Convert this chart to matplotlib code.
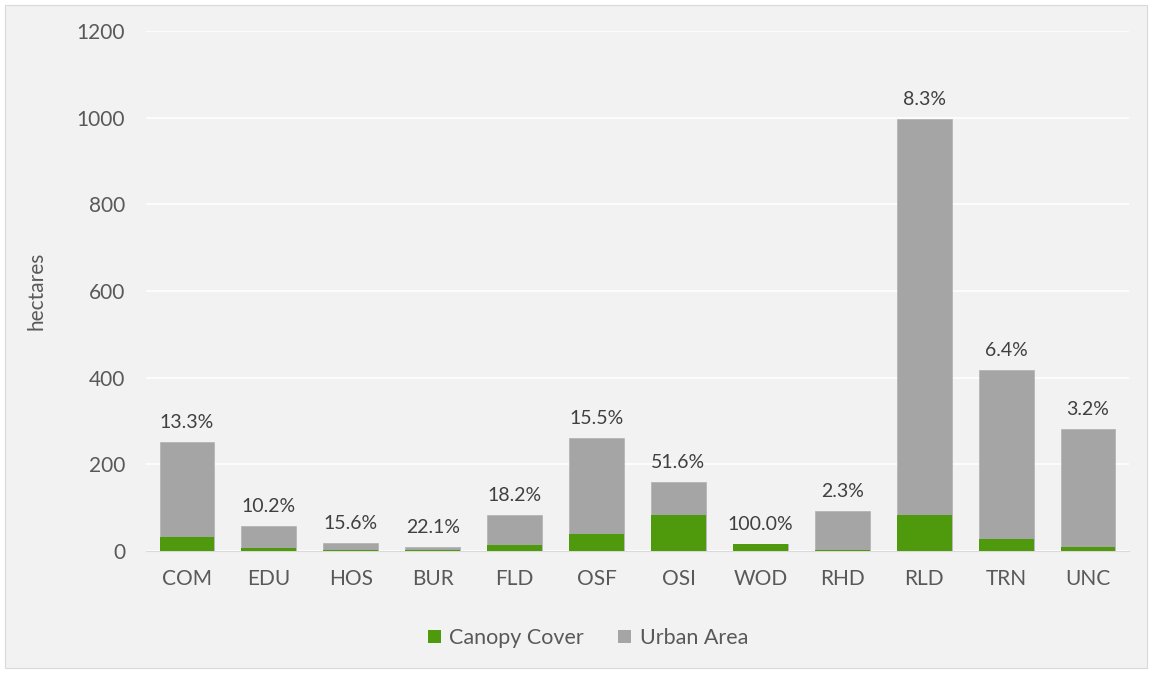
import matplotlib
matplotlib.use("Agg")
import matplotlib.pyplot as plt
from matplotlib.patches import Rectangle, Patch

categories = ["COM", "EDU", "HOS", "BUR", "FLD", "OSF", "OSI", "WOD", "RHD", "RLD", "TRN", "UNC"]
urban_area = [251, 58.4, 17.7, 9.2, 82.3, 260, 160, 17, 91.6, 997, 417, 281]
canopy_cover = [33.4, 6.0, 2.8, 2.0, 15.0, 40.3, 82.6, 17, 2.1, 82.7, 26.7, 9.0]
pct_labels = ["13.3%", "10.2%", "15.6%", "22.1%", "18.2%", "15.5%", "51.6%", "100.0%", "2.3%", "8.3%", "6.4%", "3.2%"]
yticks = [0, 200, 400, 600, 800, 1000, 1200]

plt.rcParams['font.family'] = ['Lato', 'DejaVu Sans']
W, H = 1152, 673
fig = plt.figure(figsize=(W / 100, H / 100), dpi=100, facecolor='white')
fig.patches.append(Rectangle((5 / W, 5 / H), (W - 10) / W, (H - 10) / H, transform=fig.transFigure,
                             facecolor='#f2f2f2', edgecolor='#d9d9d9', lw=0.8, zorder=-10))

ax = fig.add_axes([146 / W, 1 - 551 / H, (1129 - 146) / W, (551 - 31) / H])
ax.set_facecolor('none')
x = list(range(len(categories)))
ax.bar(x, urban_area, width=0.67, color='#a5a5a5', edgecolor='#b5b5b5', lw=0.6, zorder=2, label='Urban Area')
ax.bar(x, canopy_cover, width=0.67, color='#4e9a0c', zorder=3, label='Canopy Cover')

for xi, v, lab in zip(x, urban_area, pct_labels):
    ax.annotate(lab, (xi, v), xytext=(0, 8), textcoords='offset points', ha='center', va='bottom',
                fontsize=14, color='#404040')

ax.set_ylim(0, 1200)
ax.set_xlim(-0.5, len(categories) - 0.5)
ax.set_yticks(yticks)
ax.set_yticklabels([str(t) for t in yticks])
ax.set_xticks(x)
ax.set_xticklabels(categories)
ax.grid(axis='y', color='white', lw=1.2, zorder=0)
ax.set_axisbelow(True)
for s in ['top', 'right', 'left']:
    ax.spines[s].set_visible(False)
ax.spines['bottom'].set_color('#d9d9d9')
ax.tick_params(axis='both', length=0, colors='#595959', labelsize=15)
ax.tick_params(axis='y', pad=15)
ax.tick_params(axis='x', pad=13)
ax.set_ylabel('hectares', fontsize=15, color='#595959', labelpad=22)

handles = [Patch(facecolor='#4e9a0c', label='Canopy Cover'), Patch(facecolor='#a5a5a5', label='Urban Area')]
fig.legend(handles=handles, loc='center', bbox_to_anchor=(588 / W, 1 - 638 / H), ncol=2, frameon=False,
           fontsize=15.5, labelcolor='#595959', handlelength=0.6, handleheight=0.6, handletextpad=0.4,
           columnspacing=1.6)

fig.savefig('out.png', dpi=100, facecolor='white')
